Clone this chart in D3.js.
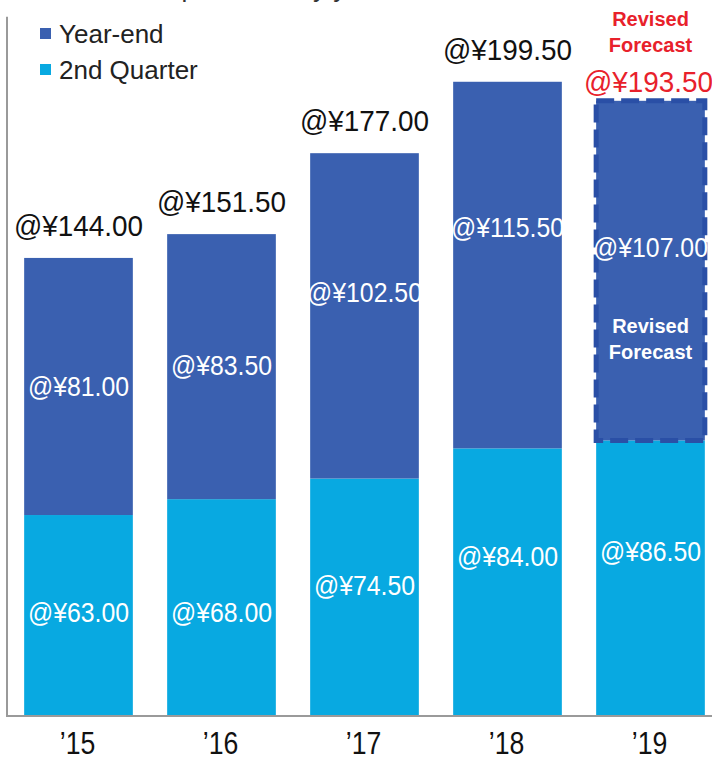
<!DOCTYPE html>
<html lang="en">
<head>
    <meta charset="UTF-8">
    <title>Dividends per share</title>
    <script src="https://cdn.jsdelivr.net/npm/d3@7"></script>
    <style>
        body { margin: 0; background: #fff; }
        svg { display: block; }
    </style>
</head>
<body>
<div id="chart"></div>
<script>
    // data
    var years = ["’15", "’16", "’17", "’18", "’19"];
    var secondQuarter = [63.00, 68.00, 74.50, 84.00, 86.50];
    var yearEnd = [81.00, 83.50, 102.50, 115.50, 107.00];
    var totals = [144.00, 151.50, 177.00, 199.50, 193.50];
    var forecast = [false, false, false, false, true];
    var seriesNames = ["Year-end", "2nd Quarter"];

    // label nudges (px) so inner labels sit where the original put them
    var yeNudge = [0, -2, -24, -38, -24];
    var q2Nudge = [-3, 5, -12, -26, -27];

    var W = 712, H = 760;
    var blue = "#3A60B0", cyan = "#08A9E1", red = "#E8212B";
    var sans = "'Liberation Sans', Arial, sans-serif";

    var svg = d3.select("#chart").append("svg")
        .attr("width", W)
        .attr("height", H);

    var x = d3.scaleBand()
        .domain(years)
        .range([7, 722])
        .paddingInner(0.24)
        .paddingOuter(0.12);

    var y = d3.scaleLinear()
        .domain([0, 220])
        .range([715, 16.7]);

    // title, cut off at the very top like the original
    svg.append("text")
        .attr("x", 60)
        .attr("y", -3)
        .attr("font-family", sans)
        .attr("font-size", 26)
        .attr("fill", "#333")
        .text("Dividends per share by year");

    var fmt = function (v) { return "@¥" + v.toFixed(2); };

    // condensed-looking label: squeeze horizontally around its anchor
    function label(parent, tx, ty, txt, size, sx, color) {
        return parent.append("text")
            .attr("transform", "translate(" + tx + "," + ty + ") scale(" + sx + ",1)")
            .attr("text-anchor", "middle")
            .attr("font-family", sans)
            .attr("font-size", size)
            .attr("fill", color)
            .text(txt);
    }

    var g = svg.append("g");

    years.forEach(function (yr, i) {
        var x0 = x(yr), bw = x.bandwidth(), cx = x0 + bw / 2;
        // 2nd quarter
        g.append("rect")
            .attr("x", x0).attr("width", bw)
            .attr("y", y(secondQuarter[i]))
            .attr("height", y(0) - y(secondQuarter[i]))
            .attr("fill", cyan);
        // year-end
        var r = g.append("rect")
            .attr("x", x0).attr("width", bw)
            .attr("y", y(totals[i]))
            .attr("height", y(secondQuarter[i]) - y(totals[i]))
            .attr("fill", blue);
        if (forecast[i]) {
            r.attr("stroke", "#2A4FA6")
                .attr("stroke-width", 5)
                .attr("stroke-dasharray", "18,7");
        }

        // inner labels
        var ymid = (y(totals[i]) + y(secondQuarter[i])) / 2 + yeNudge[i];
        label(g, cx, ymid + 10, fmt(yearEnd[i]), 27, 0.92, "#fff");
        var qmid = (y(secondQuarter[i]) + y(0)) / 2 + q2Nudge[i];
        label(g, cx, qmid + 10, fmt(secondQuarter[i]), 27, 0.92, "#fff");

        // totals
        label(g, forecast[i] ? cx - 2 : cx, y(totals[i]) - (forecast[i] ? 9 : 22),
            fmt(totals[i]), 30, 0.93, forecast[i] ? red : "#111");

        if (forecast[i]) {
            ["Revised", "Forecast"].forEach(function (t, k) {
                g.append("text")
                    .attr("x", cx).attr("y", 26 + k * 26)
                    .attr("text-anchor", "middle")
                    .attr("font-family", sans)
                    .attr("font-weight", "bold")
                    .attr("font-size", 20)
                    .attr("fill", red)
                    .text(t);
                g.append("text")
                    .attr("x", cx).attr("y", 333 + k * 26)
                    .attr("text-anchor", "middle")
                    .attr("font-family", sans)
                    .attr("font-weight", "bold")
                    .attr("font-size", 20)
                    .attr("fill", "#fff")
                    .text(t);
            });
        }
    });

    // axes
    svg.append("line")
        .attr("x1", 7).attr("x2", 7)
        .attr("y1", y(220)).attr("y2", y(0))
        .attr("stroke", "#9a9a9a").attr("stroke-width", 2);
    svg.append("line")
        .attr("x1", 6).attr("x2", W)
        .attr("y1", y(0) + 1).attr("y2", y(0) + 1)
        .attr("stroke", "#9a9a9a").attr("stroke-width", 2);

    var xAxis = svg.append("g")
        .attr("transform", "translate(0," + y(0) + ")")
        .call(d3.axisBottom(x).tickSize(0).tickPadding(0));
    xAxis.select(".domain").remove();
    xAxis.selectAll("text")
        .attr("dy", null)
        .attr("y", 0)
        .attr("transform", "translate(-1,39) scale(0.86,1)")
        .attr("font-family", sans)
        .attr("font-size", 31)
        .attr("fill", "#111");

    // legend
    var legend = svg.append("g");
    [blue, cyan].forEach(function (c, k) {
        legend.append("rect")
            .attr("x", 40).attr("y", 28 + k * 36)
            .attr("width", 11).attr("height", 11)
            .attr("fill", c);
        legend.append("text")
            .attr("x", 59).attr("y", 43 + k * 36)
            .attr("font-family", sans)
            .attr("font-size", 26)
            .attr("fill", "#222")
            .text(seriesNames[k]);
    });
</script>
</body>
</html>
